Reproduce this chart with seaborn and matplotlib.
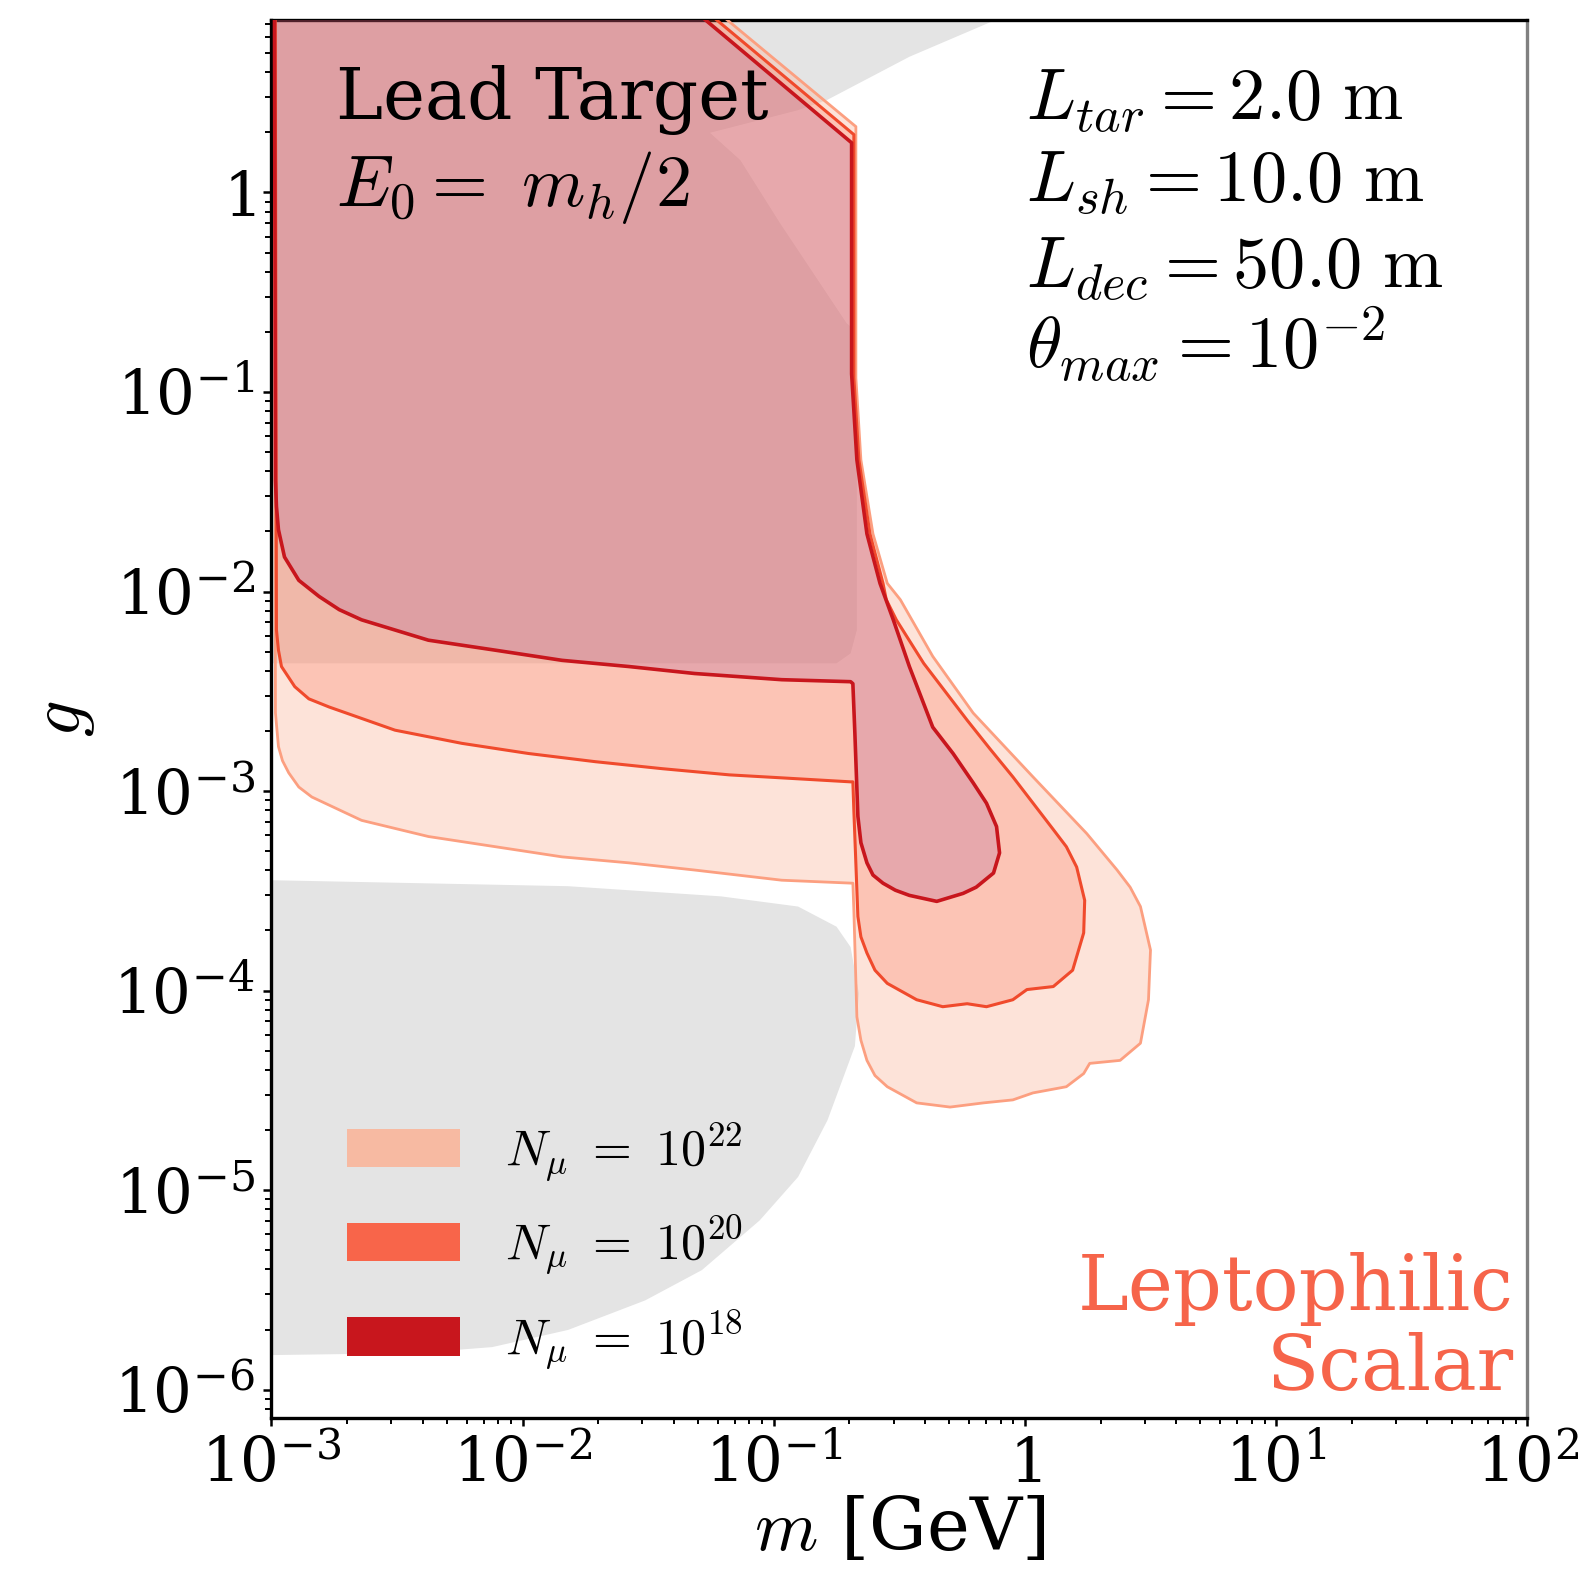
import numpy as np
import matplotlib
matplotlib.use("Agg")
import matplotlib.pyplot as plt
import seaborn as sns
from matplotlib.patches import Patch
from matplotlib.ticker import FuncFormatter, LogLocator, NullFormatter

# ---------------- data (log10 of m [GeV] and of g) ----------------
# N_mu = 1e18 sensitivity contour
n18_logm = [-2.988, -1.40, -0.690, -0.690, -0.669, -0.629, -0.577, -0.524, -0.460, -0.367, -0.286,
            -0.206, -0.153, -0.113, -0.101, -0.125, -0.194, -0.246, -0.351, -0.460, -0.516, -0.565,
            -0.605, -0.629, -0.653, -0.665, -0.677, -0.685, -0.694, -0.968, -1.315, -1.577, -1.843,
            -2.109, -2.375, -2.641, -2.730, -2.810, -2.891, -2.948, -2.972, -2.980, -2.984, -2.988]
n18_logg = [1.0, 1.0, 0.249, -0.909, -1.340, -1.711, -1.959, -2.142, -2.376, -2.680, -2.812,
            -2.959, -3.061, -3.178, -3.310, -3.411, -3.482, -3.513, -3.553, -3.523, -3.497, -3.462,
            -3.421, -3.360, -3.259, -3.127, -2.711, -2.462, -2.452, -2.442, -2.411, -2.376, -2.345,
            -2.294, -2.244, -2.142, -2.091, -2.025, -1.944, -1.827, -1.690, -1.574, -1.442, 1.0]

# N_mu = 1e20 sensitivity contour
n20_logm = [-2.985, -1.356, -0.681, -0.681, -0.661, -0.617, -0.565, -0.552, -0.512, -0.403, -0.230,
            -0.137, -0.048, 0.113, 0.165, 0.206, 0.238, 0.234, 0.190, 0.113, 0.008, -0.048, -0.153,
            -0.230, -0.327, -0.431, -0.548, -0.597, -0.629, -0.653, -0.665, -0.681, -0.685, -0.694,
            -0.968, -1.177, -1.444, -1.710, -1.976, -2.242, -2.508, -2.770, -2.851, -2.907, -2.960,
            -2.972, -2.980, -2.985]
n20_logg = [1.0, 1.0, 0.290, -0.930, -1.340, -1.711, -1.959, -2.041, -2.142, -2.360, -2.645,
            -2.792, -2.929, -3.193, -3.279, -3.381, -3.548, -3.711, -3.898, -3.980, -3.995, -4.046, -4.081,
            -4.066, -4.081, -4.046, -3.964, -3.898, -3.812, -3.731, -3.629, -3.100, -2.954, -2.954,
            -2.934, -2.919, -2.888, -2.853, -2.812, -2.761, -2.695, -2.579, -2.538, -2.477, -2.376,
            -2.294, -2.193, 1.0]

# N_mu = 1e22 sensitivity contour
n22_logm = [-2.988, -1.315, -0.673, -0.673, -0.653, -0.605, -0.548, -0.496, -0.367, -0.206, 0.032,
            0.246, 0.367, 0.419, 0.460, 0.500, 0.492, 0.460, 0.379, 0.258, 0.234, 0.165, 0.032, -0.048,
            -0.165, -0.298, -0.431, -0.548, -0.597, -0.629, -0.653, -0.669, -0.681, -0.685, -0.968,
            -1.315, -1.577, -1.843, -2.109, -2.375, -2.641, -2.839, -2.891, -2.931, -2.956, -2.972,
            -2.984, -2.988]
n22_logg = [1.0, 1.0, 0.330, -0.930, -1.340, -1.711, -1.959, -2.041, -2.325, -2.609, -2.929,
            -3.213, -3.396, -3.482, -3.579, -3.797, -4.046, -4.264, -4.350, -4.365, -4.416, -4.482, -4.513,
            -4.548, -4.563, -4.584, -4.563, -4.482, -4.426, -4.350, -4.249, -4.132, -3.600, -3.462,
            -3.447, -3.396, -3.360, -3.330, -3.279, -3.228, -3.147, -3.030, -2.980, -2.909, -2.848,
            -2.777, -2.609, 1.0]

# existing constraints (grey)
grey_top_logm = [-3.0, 0.134, -0.129, -0.460, -0.790, -0.907, -1.254, -1.133, -0.976, -0.710,
                 -0.669, -0.669, -0.694, -0.750, -3.0]
grey_top_logg = [1.0, 1.0, 0.858, 0.680, 0.462, 0.411, 0.299, 0.162, -0.152, -0.655,
                 -0.700, -2.193, -2.310, -2.360, -2.360]
grey_bot_logm = [-3.0, -1.819, -1.210, -0.903, -0.750, -0.694, -0.661, -0.677, -0.786, -0.903,
                 -1.056, -1.286, -1.512, -1.819, -2.121, -2.427, -3.0]
grey_bot_logg = [-3.447, -3.477, -3.528, -3.579, -3.680, -3.782, -4.015, -4.279, -4.650, -4.934,
                 -5.152, -5.401, -5.553, -5.701, -5.787, -5.817, -5.827]

legend_labels = [r"$N_\mu\ =\ 10^{22}$", r"$N_\mu\ =\ 10^{20}$", r"$N_\mu\ =\ 10^{18}$"]
param_lines = [r"$L_{tar} = 2.0\ \mathrm{m}$", r"$L_{sh} = 10.0\ \mathrm{m}$",
               r"$L_{dec} = 50.0\ \mathrm{m}$", r"$\theta_{max} = 10^{-2}$"]
xlim = (1e-3, 1e2)
ylim = (10 ** -6.142, 10 ** 0.863)

# ---------------- style ----------------
sns.set_theme(style="ticks")
plt.rcParams["font.family"] = ["DejaVu Serif"]
plt.rcParams["mathtext.fontset"] = "cm"
plt.rcParams["axes.unicode_minus"] = True
for k in ["text.color", "axes.labelcolor", "xtick.color", "ytick.color", "axes.edgecolor"]:
    plt.rcParams[k] = "black"

fig = plt.figure(figsize=(7.94, 7.91), dpi=200)
ax = fig.add_axes([0.17092, 0.10371, 0.79082, 0.88348])
ax.set_xscale("log")
ax.set_yscale("log")

GREY = "#e4e4e4"
ax.fill(10 ** np.array(grey_top_logm), 10 ** np.array(grey_top_logg), color=GREY, lw=0, zorder=1)
ax.fill(10 ** np.array(grey_bot_logm), 10 ** np.array(grey_bot_logg), color=GREY, lw=0, zorder=1)

regions = [
    (n22_logm, n22_logg, "#fcbba1", 0.40, "#fc9f80", 1.0),
    (n20_logm, n20_logg, "#fb6a4a", 0.25, "#f04a2c", 1.1),
    (n18_logm, n18_logg, "#963c8c", 0.20, "#c8161d", 1.3),
]
for i, (lm, lg, fc, a, ec, lw) in enumerate(regions):
    xs = 10 ** np.array(lm)
    ys = 10 ** np.array(lg)
    ax.fill(xs, ys, color=fc, alpha=a, lw=0, zorder=2 + i)
for i, (lm, lg, fc, a, ec, lw) in enumerate(regions):
    xs = 10 ** np.array(lm)
    ys = 10 ** np.array(lg)
    sns.lineplot(x=xs, y=ys, sort=False, estimator=None, color=ec, lw=lw, ax=ax, zorder=6 + i)
    ax.lines[-1].set_solid_joinstyle("round")

ax.set_xlim(*xlim)
ax.set_ylim(*ylim)


def fmt(v, pos):
    e = int(round(np.log10(v)))
    if e == 0:
        return r"$\mathdefault{1}$"
    return r"$\mathdefault{10^{%d}}$" % e


ax.xaxis.set_major_locator(LogLocator(base=10, numticks=20))
ax.yaxis.set_major_locator(LogLocator(base=10, numticks=20))
ax.xaxis.set_minor_locator(LogLocator(base=10, subs=np.arange(2, 10), numticks=200))
ax.yaxis.set_minor_locator(LogLocator(base=10, subs=np.arange(2, 10), numticks=200))
ax.xaxis.set_major_formatter(FuncFormatter(fmt))
ax.yaxis.set_major_formatter(FuncFormatter(fmt))
ax.xaxis.set_minor_formatter(NullFormatter())
ax.yaxis.set_minor_formatter(NullFormatter())
ax.tick_params(which="major", direction="out", length=3, width=0.9, labelsize=22, color="black", pad=3)
ax.tick_params(which="minor", direction="out", length=2, width=0.7, color="black")
ax.tick_params(top=False, right=False, which="both")
ax.xaxis.get_offset_text().set_visible(False)
ax.yaxis.get_offset_text().set_visible(False)

for s in ["left", "bottom", "top"]:
    ax.spines[s].set_color("black")
    ax.spines[s].set_linewidth(1.2)
ax.spines["right"].set_color("#808080")
ax.spines["right"].set_linewidth(1.2)

ax.set_xlabel(r"$m$ [GeV]", fontsize=26, labelpad=0)
ax.set_ylabel(r"$g$", fontsize=26, labelpad=6)

ax.text(0.0516, 0.929, "Lead Target", transform=ax.transAxes, fontsize=25.5, va="baseline", ha="left", zorder=20)
ax.text(0.0516, 0.867, r"$E_0 =\ m_h/2$", transform=ax.transAxes, fontsize=26, va="baseline", ha="left", zorder=20)

for txt, yb in zip(param_lines, [0.929, 0.870, 0.809, 0.751]):
    ax.text(0.601, yb, txt, transform=ax.transAxes, fontsize=26, va="baseline", ha="left", zorder=20)

ax.text(0.9895, 0.0203, "Leptophilic\nScalar", transform=ax.transAxes, fontsize=27.5, color="#f6644a",
        ha="right", va="baseline", multialignment="right", linespacing=1.1, zorder=20)

handles = [Patch(facecolor=c, edgecolor="none") for c in ["#f7baa2", "#f8654a", "#c8161d"]]
leg = ax.legend(handles, legend_labels, loc="lower left", bbox_to_anchor=(0.0605, 0.033), frameon=False,
                fontsize=18, handlelength=2.25, handleheight=0.8, handletextpad=0.9, labelspacing=0.62,
                borderpad=0, borderaxespad=0)
leg.set_zorder(20)

fig.savefig("out.png", dpi=200)
